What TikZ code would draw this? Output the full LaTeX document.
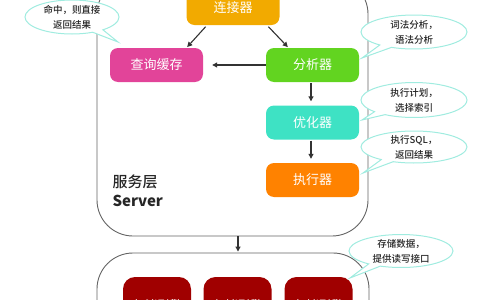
\documentclass[tikz,border=0pt]{standalone}
\usepackage{fontspec}
\setmainfont{Noto Sans CJK SC}
\newfontfamily\notefont{Noto Sans CJK SC}[UprightFont={* Medium}]
\usetikzlibrary{arrows.meta, positioning, shapes.callouts, calc}
\definecolor{connyellow}{RGB}{242, 170, 0}
\definecolor{cachepink}{RGB}{226, 68, 153}
\definecolor{parsergreen}{RGB}{98, 212, 32}
\definecolor{optimcyan}{RGB}{62, 226, 196}
\definecolor{execorange}{RGB}{255, 130, 0}
\definecolor{engred}{RGB}{160, 0, 0}
\definecolor{bubblecyan}{RGB}{160, 236, 224}
\definecolor{layergray}{RGB}{100, 100, 100}

\begin{document}
\begin{tikzpicture}[x=1pt, y=-1pt,
  box/.style={rounded corners=8pt, minimum width=93pt, minimum height=34pt, inner sep=0pt,
    text=white, font=\fontsize{13}{15}\selectfont},
  engbox/.style={box, fill=engred, minimum width=68pt, minimum height=58pt, rounded corners=12pt},
  layer/.style={draw=layergray, line width=0.9pt, rounded corners=36pt, inner sep=0pt},
  bubble/.style={ellipse callout, draw=bubblecyan, line width=1pt, fill=white, align=center,
    inner xsep=0pt, inner ysep=-2.5pt, text=black!85, font=\notefont\fontsize{9.5}{15}\selectfont},
  arr/.style={-{Triangle[length=5pt, width=5pt]}, line width=1.1pt, draw=black!80}
]
  \useasboundingbox (0,0) rectangle (480,300);
  \clip (0,0) rectangle (480,300);

  % Layers
  \node[layer, minimum width=271pt, minimum height=258pt] (srv) at (232.5,107) {};
  \node[layer, minimum width=272pt, minimum height=120pt] (eng) at (233,313) {};
  \node[anchor=west, align=left, text=black!85, font=\notefont\fontsize{15}{19}\selectfont] (srvlabel) at (109,191) {服务层\\\textbf{Server}};

  % Server components
  \node[box, fill=connyellow] (conn) at (233,8) {连接器};
  \node[box, fill=cachepink] (cache) at (156.5,65) {查询缓存};
  \node[box, fill=parsergreen] (parser) at (312.5,65) {分析器};
  \node[box, fill=optimcyan] (optim) at (312.5,122.5) {优化器};
  \node[box, fill=execorange] (exec) at (312.5,180) {执行器};

  % Storage engines
  \node[engbox] (eng1) at (157,306) {存储引擎};
  \node[engbox] (eng2) at (237.5,306) {存储引擎};
  \node[engbox] (eng3) at (318.5,306) {存储引擎};

  % Connectors
  \draw[arr, shorten <=2pt, shorten >=1pt] ([xshift=-26pt]conn.south) -- ([xshift=30pt]cache.north);
  \draw[arr, shorten <=2pt, shorten >=1pt] ([xshift=34pt]conn.south) -- ([xshift=-24pt]parser.north);
  \draw[arr, shorten >=9pt] (parser.west) -- (cache.east);
  \draw[arr, shorten <=1pt, shorten >=4pt] ([xshift=-1.5pt]parser.south) -- ([xshift=-1.5pt]optim.north);
  \draw[arr, shorten <=1pt, shorten >=4pt] ([xshift=-1.5pt]optim.south) -- ([xshift=-1.5pt]exec.north);
  \draw[arr, shorten >=1pt] ([xshift=5.5pt]srv.south) -- ([xshift=5pt]eng.north);

  % Notes
  \node[bubble, minimum width=94pt, minimum height=34pt, callout absolute pointer={(118,42)}] (hitnote) at (72,17) {命中，则直接\\返回结果};
  \node[bubble, minimum width=106pt, minimum height=34pt, callout absolute pointer={(362,58)}] (parsenote) at (414,32) {词法分析，\\语法分析};
  \node[bubble, minimum width=106pt, minimum height=35pt, callout absolute pointer={(362,120)}] (optimnote) at (414,100) {执行计划，\\选择索引};
  \node[bubble, minimum width=106pt, minimum height=32pt, callout absolute pointer={(363,173)}] (execnote) at (414,147) {执行SQL，\\返回结果};
  \node[bubble, minimum width=104pt, minimum height=33pt, callout absolute pointer={(350,278)}] (engnote) at (401,251) {存储数据，\\提供读写接口};
\end{tikzpicture}
\end{document}
